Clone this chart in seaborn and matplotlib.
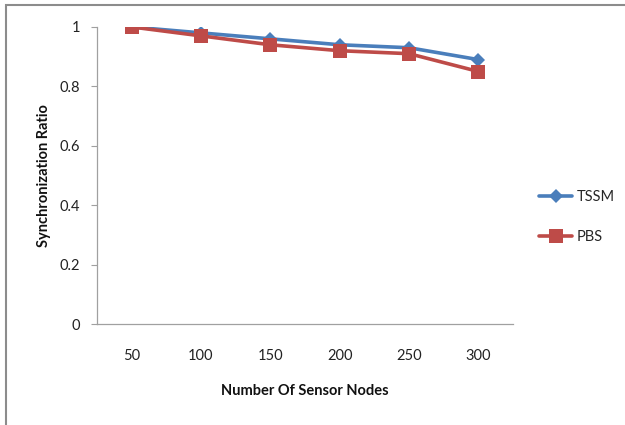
import matplotlib
matplotlib.use("Agg")
import matplotlib.pyplot as plt
import seaborn as sns
import pandas as pd
from matplotlib.patches import Rectangle

nodes = ["50", "100", "150", "200", "250", "300"]
tssm = [1.00, 0.98, 0.96, 0.94, 0.93, 0.89]
pbs = [1.00, 0.97, 0.94, 0.92, 0.91, 0.85]

df = pd.DataFrame({
    "Nodes": nodes * 2,
    "Ratio": tssm + pbs,
    "Method": ["TSSM"] * len(nodes) + ["PBS"] * len(nodes),
})

sns.set_theme(style="white")
plt.rcParams["font.family"] = ["Lato", "DejaVu Sans"]

fig = plt.figure(figsize=(6.25, 4.25), dpi=100)
ax = fig.add_axes([0.155, 0.2376, 0.666, 0.699])

palette = {"TSSM": "#4A7EBB", "PBS": "#BE4B48"}
markers = {"TSSM": "D", "PBS": "s"}
sizes = {"TSSM": 7, "PBS": 10}

for name in ["TSSM", "PBS"]:
    sub = df[df["Method"] == name]
    sns.lineplot(data=sub, x="Nodes", y="Ratio", ax=ax, color=palette[name],
                 marker=markers[name], markersize=sizes[name],
                 markeredgewidth=0, linewidth=2.6, label=name, sort=False)

ax.set_xlim(-0.5, 5.5)
ax.set_ylim(0, 1)
ax.set_yticks([0, 0.2, 0.4, 0.6, 0.8, 1.0])
ax.set_yticklabels(["0", "0.2", "0.4", "0.6", "0.8", "1"])
ax.tick_params(axis="y", which="both", left=True, length=4, width=0.8,
               color="#a0a0a0", labelsize=10.5, pad=8, labelcolor="#222222")
ax.tick_params(axis="x", bottom=False, labelsize=10.5, pad=12, labelcolor="#222222")

for side in ["top", "right"]:
    ax.spines[side].set_visible(False)
for side in ["left", "bottom"]:
    ax.spines[side].set_color("#a0a0a0")
    ax.spines[side].set_linewidth(0.9)

ax.set_xlabel("Number Of Sensor Nodes", fontsize=10.5, fontweight="bold",
              labelpad=15, color="#111111")
ax.set_ylabel("Synchronization Ratio", fontsize=10.5, fontweight="bold",
              labelpad=6, color="#111111")

leg = ax.legend(loc="center left", bbox_to_anchor=(1.03, 0.36), frameon=False,
                fontsize=10.5, handlelength=2.3, handletextpad=0.3,
                labelspacing=1.75)

# frame line along the top and left edges of the figure
fig.add_artist(Rectangle((6 / 625, -0.1), 1.2, 1 - 5 / 425 + 0.1,
                         transform=fig.transFigure, fill=False,
                         edgecolor="#8c8c8c", linewidth=1.5))

fig.savefig("out.png", dpi=100)
